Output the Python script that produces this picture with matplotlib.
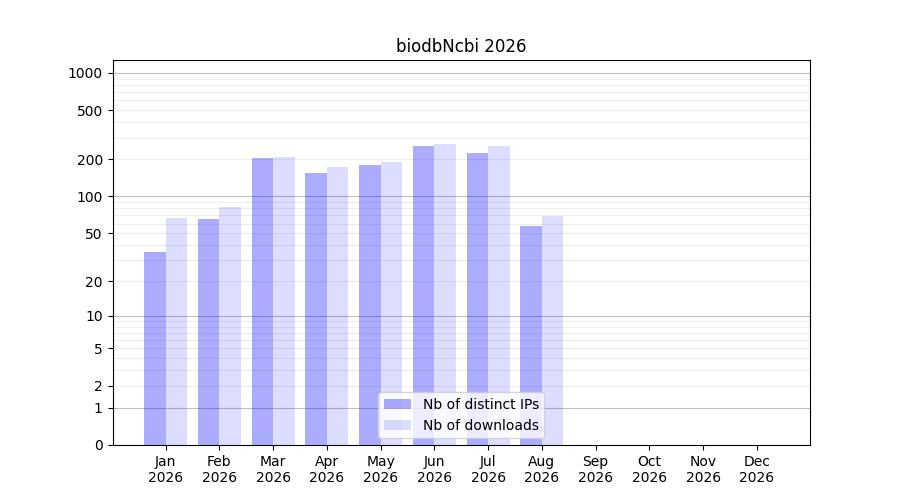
import matplotlib
matplotlib.use("Agg")
import matplotlib.pyplot as plt
import numpy as np

# Monthly stats for biodbNcbi
months = ["Jan", "Feb", "Mar", "Apr", "May", "Jun",
          "Jul", "Aug", "Sep", "Oct", "Nov", "Dec"]
year = 2026
nbIps = [35, 65, 205, 155, 180, 257, 225, 57, 0, 0, 0, 0]
nbDownloads = [67, 82, 209, 174, 190, 267, 257, 69, 0, 0, 0, 0]

yTicks = [0, 1, 2, 5, 10, 20, 50, 100, 200, 500, 1000]


def fwd(x):
    return np.log10(np.asarray(x, dtype=float) + 1)


def inv(y):
    return 10 ** np.asarray(y, dtype=float) - 1


figure, axes = plt.subplots(figsize=(9, 5), dpi=100)
axes.set_yscale("function", functions=(fwd, inv))

x = np.arange(len(months))
width = 0.4
axes.bar(x - width / 2, nbIps, width, color="blue", alpha=0.33,
         label="Nb of distinct IPs")
axes.bar(x + width / 2, nbDownloads, width, color="blue", alpha=0.135,
         label="Nb of downloads")

# Grid lines: major at powers of ten, minor at the in-between values
major = [1, 10, 100, 1000]
minor = [m * 10 ** e for e in range(0, 4) for m in range(2, 10)]
for v in minor:
    axes.axhline(v, color="#eeeeee", linewidth=0.8, zorder=0.5)
for v in major:
    axes.axhline(v, color="#c0c0c0", linewidth=0.8, zorder=0.6)

axes.set_ylim(0, 1270)
axes.set_yticks(yTicks)
axes.set_yticklabels([str(t) for t in yTicks])
axes.yaxis.set_minor_locator(matplotlib.ticker.NullLocator())
axes.set_xticks(x)
axes.set_xticklabels(["{}\n{}".format(m, year) for m in months])
axes.set_title("biodbNcbi {}".format(year))
axes.legend(loc="lower center")

figure.savefig("out.png")
